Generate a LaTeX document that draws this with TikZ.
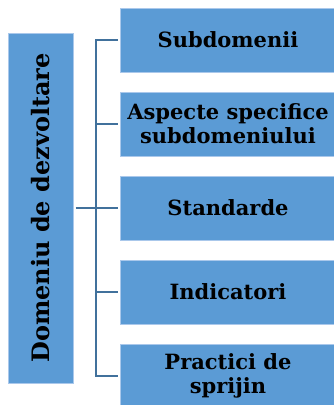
\documentclass[tikz,border=0pt]{standalone}
\usepackage{fontspec}
\setmainfont{DejaVu Serif}
\usetikzlibrary{positioning}
\definecolor{boxblue}{RGB}{91,155,213}
\definecolor{boxedge}{RGB}{170,200,235}
\definecolor{linkblue}{RGB}{65,113,156}

\begin{document}
\begin{tikzpicture}[
  x=1pt, y=1pt,
  every node/.style={font=\bfseries\fontsize{21}{24}\selectfont},
  box/.style={rectangle, draw=boxedge, line width=0.8pt, fill=boxblue,
              align=center, outer sep=2.5pt, inner sep=2pt},
  subbox/.style={box, minimum width=216pt, minimum height=64pt},
  link/.style={draw=linkblue, line width=2pt}
]
  \useasboundingbox (0,0) rectangle (333,-405);
  \node[box, rotate=90, minimum width=350pt, minimum height=65pt,
        font=\bfseries\fontsize{24}{28}\selectfont] (dom) at (40.5,-208)
    {Domeniu de dezvoltare};
  \node[subbox] (sub1) at (228,-40) {Subdomenii};
  \node[subbox, below=15pt of sub1] (sub2) {Aspecte specifice \\ subdomeniului};
  \node[subbox, below=15pt of sub2] (sub3) {Standarde};
  \node[subbox, below=15pt of sub3] (sub4) {Indicatori};
  \node[subbox, below=15pt of sub4] (sub5) {Practici de \\ sprijin};

  \draw[link] (dom.south) -- (sub3.west);
  \draw[link] (sub1.west) -- ++(-21.5pt,0) |- (sub5.west);
  \draw[link] (sub2.west) -- ++(-21.5pt,0);
  \draw[link] (sub4.west) -- ++(-21.5pt,0);
\end{tikzpicture}
\end{document}
